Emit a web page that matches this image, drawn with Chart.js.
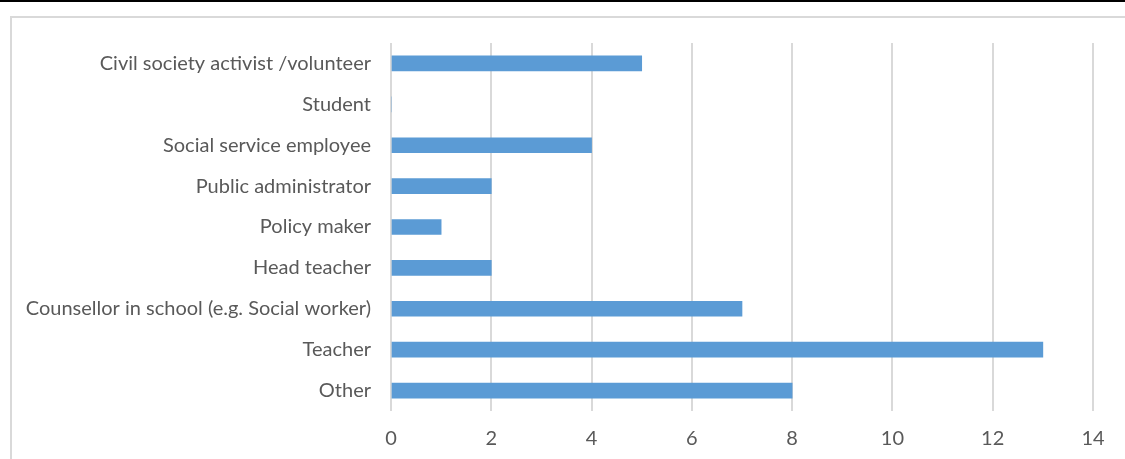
<!DOCTYPE html>
<html>
<head>
<meta charset="utf-8">
<script src="https://cdn.jsdelivr.net/npm/chart.js@4"></script>
<style>
html,body{margin:0;padding:0;background:#fff;width:1125px;height:459px;overflow:hidden;}
#topline{position:absolute;left:0;top:0;width:1125px;height:2px;background:#000;}
#frame{position:absolute;left:10px;top:16px;width:1130px;height:460px;border:2px solid #d9d9d9;box-sizing:border-box;}
#wrap{position:absolute;left:0;top:0;width:1125px;height:459px;}
</style>
</head>
<body>
<div id="topline"></div>
<div id="frame"></div>
<div id="wrap"><canvas id="c" width="1125" height="459"></canvas></div>
<script>
const categories = ["Civil society activist /volunteer","Student","Social service employee","Public administrator","Policy maker","Head teacher","Counsellor in school (e.g. Social worker)","Teacher","Other"];
const values = [5,0,4,2,1,2,7,13,8];
const xTicks = [0,2,4,6,8,10,12,14];

const FONT = {family:"Lato, 'Liberation Sans', sans-serif", size:20};
new Chart(document.getElementById('c'), {
  type:'bar',
  data:{labels:categories, datasets:[{data:values, backgroundColor:'#5b9bd5', borderWidth:0, barThickness:15}]},
  options:{
    indexAxis:'y', responsive:false, animation:false,
    layout:{padding:{left:0,right:32,top:43,bottom:0}},
    plugins:{legend:{display:false}, tooltip:{enabled:false}},
    scales:{
      x:{min:0,max:14,
        afterBuildTicks:s=>{s.ticks=xTicks.map(v=>({value:v}));},
        grid:{color:'#d9d9d9',lineWidth:2,drawTicks:false},
        border:{display:false},
        ticks:{color:'#595959',font:FONT,padding:16},
        afterFit:s=>{s.height=48;}
      },
      y:{
        grid:{display:false,drawTicks:false},
        border:{display:false},
        ticks:{color:'#595959',font:FONT,padding:20,autoSkip:false},
        afterFit:s=>{s.width=391;}
      }
    }
  }
});
</script>
</body>
</html>
